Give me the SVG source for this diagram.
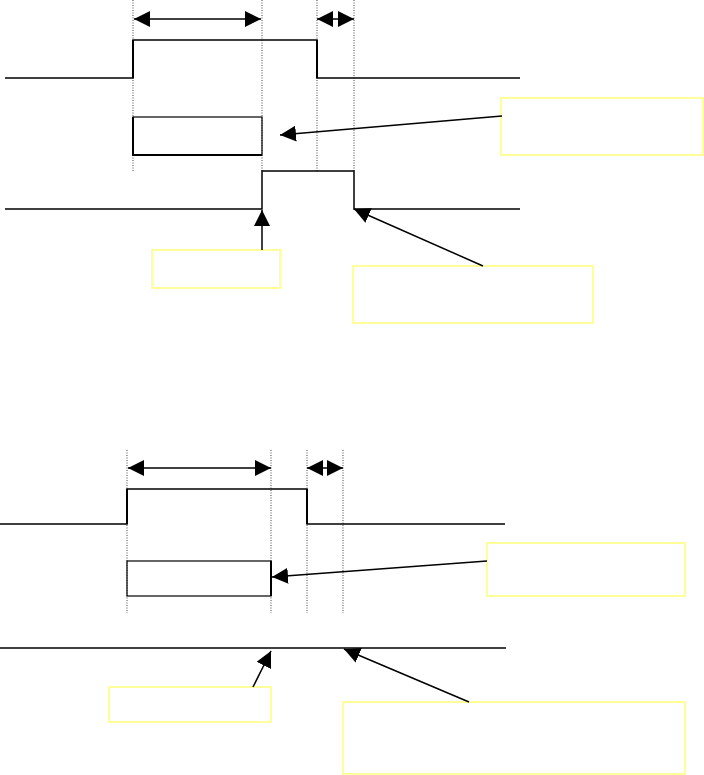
<svg xmlns="http://www.w3.org/2000/svg" width="704" height="775" viewBox="0 0 704 775">
<style>
.dot{stroke:#444;stroke-width:1;stroke-dasharray:1,1.5;fill:none}
.sig{stroke:#000;stroke-width:1.5;fill:none}
.sigb{stroke:#000;stroke-width:2;fill:none}
.note{fill:#fff;stroke:#ffff99;stroke-width:2}
.con{stroke:#000;stroke-width:1.5;fill:none}
</style>
<defs>
<marker id="ah" markerUnits="userSpaceOnUse" markerWidth="17" markerHeight="16" refX="16" refY="8" orient="auto-start-reverse" viewBox="0 0 17 16">
<path d="M0,0 L16,8 L0,16 Z" fill="#000"/>
</marker>
</defs>
<rect width="704" height="775" fill="#fff"/>
<g id="guides">
<line class="dot" x1="133" y1="0" x2="133" y2="172"/>
<line class="dot" x1="262" y1="0" x2="262" y2="172"/>
<line class="dot" x1="317" y1="0" x2="317" y2="172"/>
<line class="dot" x1="354" y1="0" x2="354" y2="172"/>
<line class="dot" x1="127" y1="450" x2="127" y2="613"/>
<line class="dot" x1="271" y1="450" x2="271" y2="613"/>
<line class="dot" x1="307" y1="450" x2="307" y2="613"/>
<line class="dot" x1="343" y1="450" x2="343" y2="613"/>
</g>
<g id="signal1">
<polyline class="sig" points="5,78 133,78 133,40 317,40 317,78 520,78"/>
<line class="sigb" x1="133" y1="40" x2="133" y2="78"/>
<line class="sigb" x1="317" y1="40" x2="317" y2="78"/>
</g>
<g id="box1">
<rect x="133" y="117" width="129" height="38" fill="none" stroke="#000" stroke-width="1.2"/>
<path d="M133,117 V155 H262" class="sigb"/>
</g>
<g id="signal2">
<polyline class="sig" points="5,209 262,209 262,171 354,171 354,209 520,209"/>
</g>
<g id="signal3">
<polyline class="sig" points="0,524 127,524 127,489 307,489 307,524 505,524"/>
<line class="sigb" x1="127" y1="489" x2="127" y2="524"/>
<line class="sigb" x1="307" y1="489" x2="307" y2="524"/>
</g>
<g id="box2">
<rect x="127" y="561" width="144" height="35" fill="none" stroke="#000" stroke-width="1.2"/>
<path d="M271,561 V596" class="sigb"/>
</g>
<g id="signal4">
<line class="sig" x1="0" y1="648" x2="506" y2="648"/>
</g>
<g id="note1"><rect class="note" x="501" y="98" width="202" height="57"/></g>
<g id="note2"><rect class="note" x="152" y="250" width="128" height="38"/></g>
<g id="note3"><rect class="note" x="353" y="266" width="240" height="57"/></g>
<g id="note4"><rect class="note" x="487" y="543" width="198" height="53"/></g>
<g id="note5"><rect class="note" x="109" y="687" width="162" height="35"/></g>
<g id="note6"><rect class="note" x="343" y="702" width="342" height="72"/></g>
<g id="connectors">
<line class="con" x1="134" y1="19" x2="261" y2="19" marker-start="url(#ah)" marker-end="url(#ah)"/>
<line class="con" x1="317" y1="19" x2="354" y2="19" marker-start="url(#ah)" marker-end="url(#ah)"/>
<line class="con" x1="128" y1="468" x2="271" y2="468" marker-start="url(#ah)" marker-end="url(#ah)"/>
<line class="con" x1="307" y1="468" x2="343" y2="468" marker-start="url(#ah)" marker-end="url(#ah)"/>
<line class="con" x1="502" y1="116" x2="280" y2="135" marker-end="url(#ah)"/>
<line class="con" x1="262" y1="250" x2="262" y2="210" marker-end="url(#ah)"/>
<line class="con" x1="483" y1="266" x2="354" y2="209" marker-end="url(#ah)"/>
<line class="con" x1="487" y1="561" x2="272" y2="577" marker-end="url(#ah)"/>
<line class="con" x1="253" y1="687" x2="271" y2="651" marker-end="url(#ah)"/>
<line class="con" x1="469" y1="702" x2="344" y2="649" marker-end="url(#ah)"/>
</g>
</svg>
